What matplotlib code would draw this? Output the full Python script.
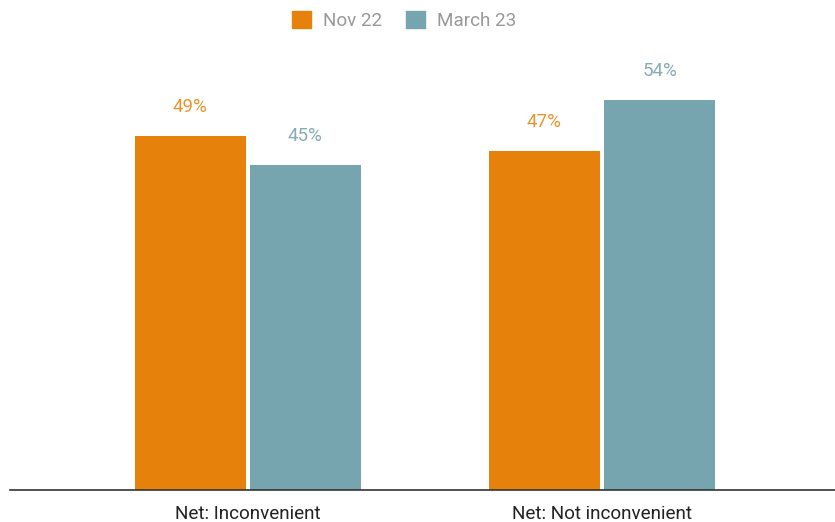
import matplotlib.pyplot as plt
from matplotlib.patches import Patch

categories = ['Net: Inconvenient', 'Net: Not inconvenient']
series_names = ['Nov 22', 'March 23']
nov22 = [49, 47]
march23 = [45, 54]

orange = '#e6820c'
teal = '#76a5af'

plt.rcParams['font.family'] = ['Roboto', 'DejaVu Sans']

fig = plt.figure(figsize=(8.35, 5.22), dpi=100)
ax = fig.add_axes([0.012, 0.0613, 0.988, 0.862])

x = [0, 1]
w = 0.314
off = 0.1625
b1 = ax.bar([i - off for i in x], nov22, width=w, color=orange)
b2 = ax.bar([i + off for i in x], march23, width=w, color=teal)

for bars, vals, c in ((b1, nov22, '#e8952e'), (b2, march23, '#86acb5')):
    for b, v in zip(bars, vals):
        ax.text(b.get_x() + b.get_width() / 2, v + 4.0, f'{v}%',
                ha='center', va='center', fontsize=13.5, color=c)

ax.set_xlim(-0.672, 1.658)
ax.set_ylim(0, 62.3)
ax.set_yticks([])
ax.set_xticks(x)
ax.set_xticklabels(categories, fontsize=13.6, color='#222222')
ax.tick_params(axis='x', length=0, pad=11)
for s in ('top', 'right', 'left'):
    ax.spines[s].set_visible(False)
ax.spines['bottom'].set_color('#333333')
ax.spines['bottom'].set_linewidth(1.2)

handles = [Patch(color=orange), Patch(color=teal)]
leg = fig.legend(handles, series_names, loc='upper center', bbox_to_anchor=(0.484, 1.012),
                 ncol=2, frameon=False, fontsize=13.6, handlelength=1.0, handleheight=1.0,
                 columnspacing=1.23, handletextpad=0.64)
for t in leg.get_texts():
    t.set_color('#999999')

fig.savefig('out.png', dpi=100)
